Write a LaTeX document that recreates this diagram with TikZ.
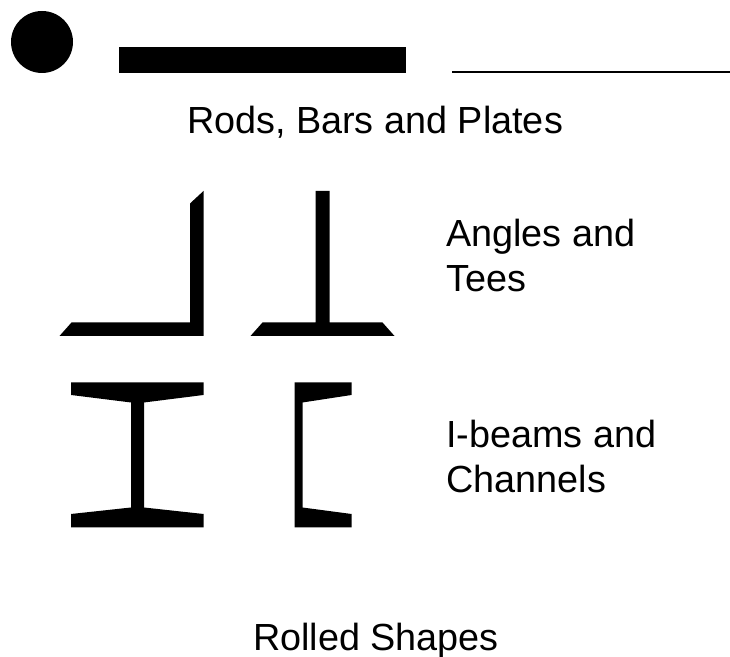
\documentclass[tikz,border=0pt]{standalone}
\usepackage{fontspec}
\setmainfont{Liberation Sans}
\usepackage{xcolor}

\tikzset{
    steel/.style={fill=black, draw=none},
    caption/.style={font=\fontsize{21.5}{26}\selectfont, inner sep=0pt}
}

\begin{document}
\begin{tikzpicture}[
        x=1cm,
        y=1cm,
        line join=round,
        line cap=butt
    ]
        \useasboundingbox (0,0) rectangle (14.6,13.14);

        % =================================
        % ROD, BAR, PLATE
        % =================================
        \coordinate (plateL) at (9.04,11.70);
        \coordinate (plateR) at (14.6,11.70);

        % rod
        \fill[steel] (0.84,12.30) circle (0.62);

        % bar
        \fill[steel] (2.38,12.19) rectangle (8.12,11.68);

        % plate
        \draw[line width=1.2pt] (plateL) -- (plateR);

        % =================================
        % ANGLE
        % =================================
        \fill[steel]
            (4.07,9.32) -- (3.80,9.07) -- (3.80,6.69) -- (1.43,6.69)
            -- (1.19,6.42) -- (4.07,6.42) -- cycle;

        % =================================
        % TEE
        % =================================
        \fill[steel]
            (6.31,9.32) -- (6.59,9.32) -- (6.59,6.69) -- (7.65,6.69)
            -- (7.89,6.42) -- (5.01,6.42) -- (5.25,6.69) -- (6.31,6.69) -- cycle;

        % =================================
        % I-BEAM
        % =================================
        \fill[steel]
            (1.42,5.49) -- (4.07,5.49) -- (4.07,5.24) -- (2.88,5.09)
            -- (2.88,2.99) -- (4.07,2.86) -- (4.07,2.59) -- (1.42,2.59)
            -- (1.42,2.86) -- (2.62,2.99) -- (2.62,5.09) -- (1.42,5.24) -- cycle;

        % =================================
        % CHANNEL
        % =================================
        \fill[steel]
            (5.89,5.49) -- (7.03,5.49) -- (7.03,5.24) -- (6.05,5.09)
            -- (6.05,2.99) -- (7.03,2.86) -- (7.03,2.59) -- (5.89,2.59) -- cycle;

        % =================================
        % LABELS
        % =================================
        \node[caption, anchor=base] (rods) at (7.50,10.46) {Rods, Bars and Plates};
        \node[caption, anchor=base west, align=left] (angles) at (8.92,7.30) {Angles and\\Tees};
        \node[caption, anchor=base west, align=left] (beams) at (8.92,3.28) {I-beams and\\Channels};
        \node[caption, anchor=base] (rolled) at (7.52,0.12) {Rolled Shapes};

    \end{tikzpicture}
\end{document}
